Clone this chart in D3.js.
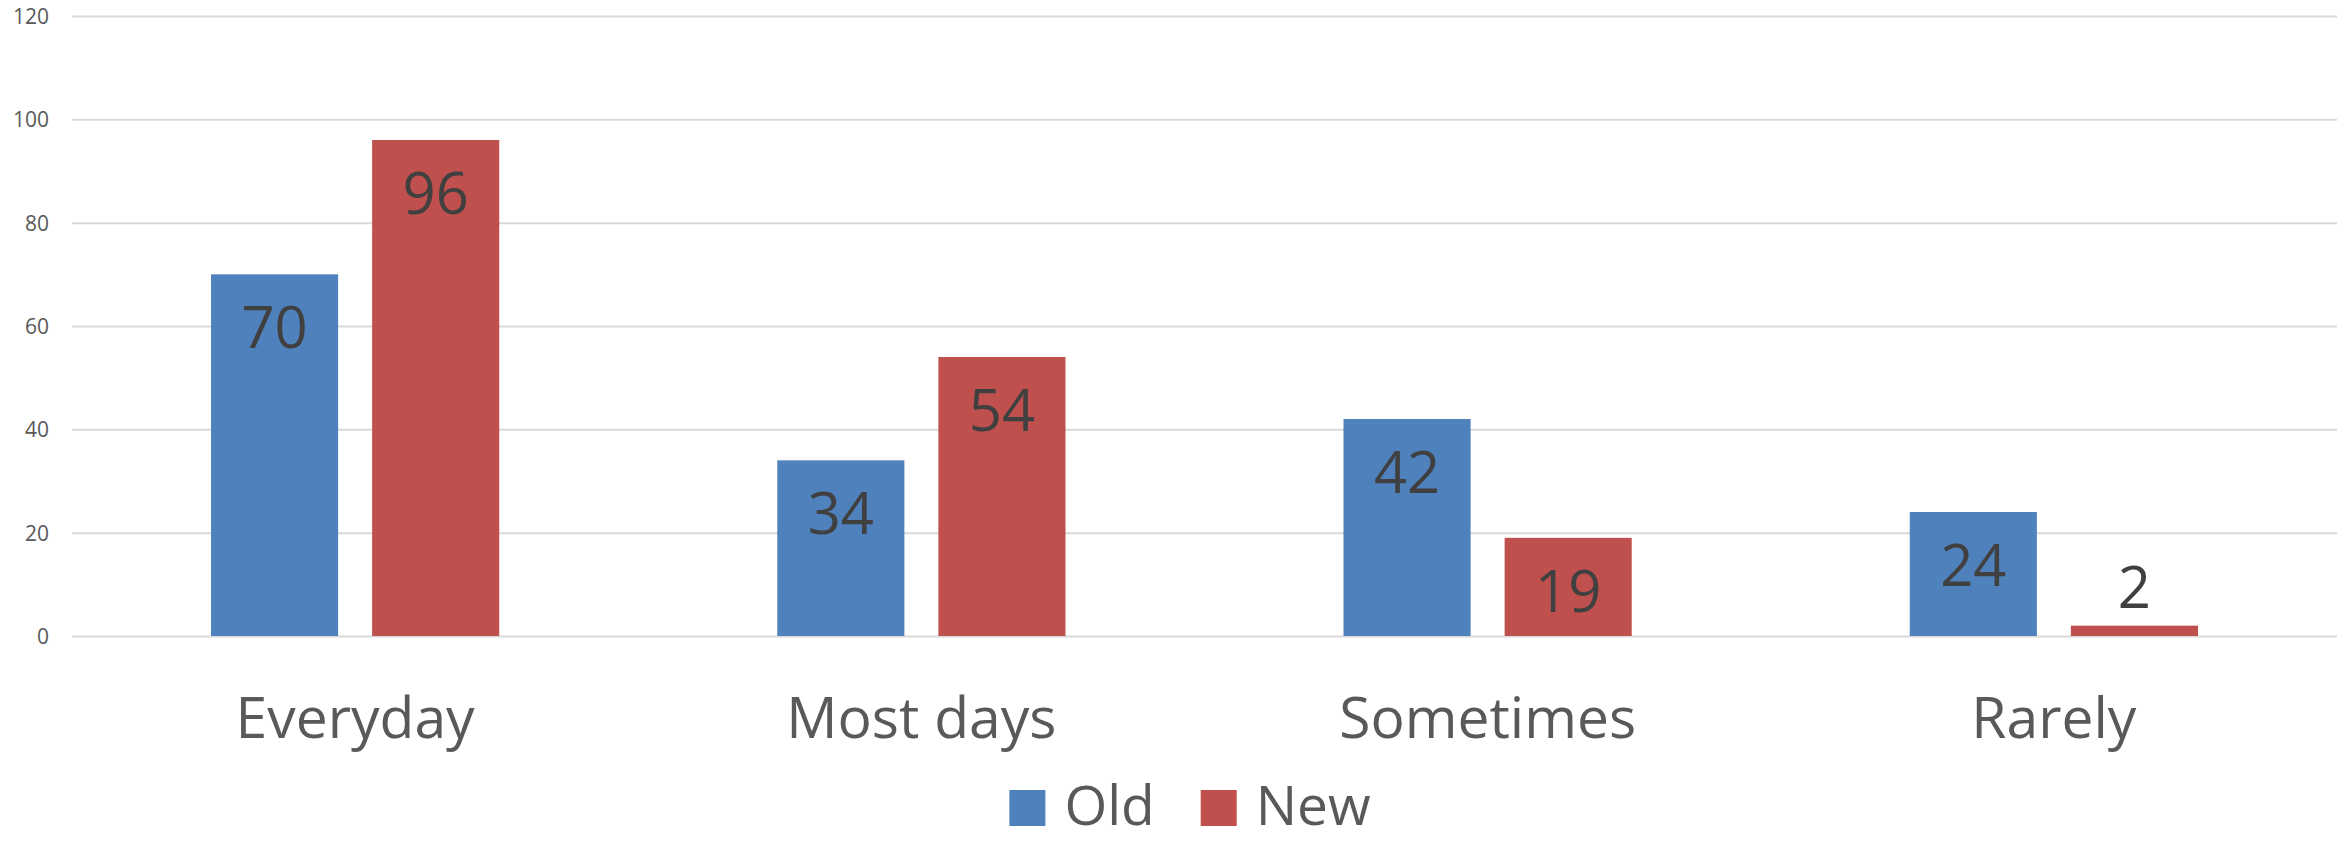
<!DOCTYPE html>
<html>
<head>
<meta charset="utf-8">
<script src="https://cdn.jsdelivr.net/npm/d3@7"></script>
<style>
  html, body { margin: 0; padding: 0; background: #fff; }
  svg { display: block; }
  text { font-family: "Open Sans", "Noto Sans", sans-serif; }
</style>
</head>
<body>
<svg id="chart" width="2343" height="843"></svg>
<script>
const categories = ["Everyday", "Most days", "Sometimes", "Rarely"];
const seriesNames = ["Old", "New"];
const oldValues = [70, 34, 42, 24];
const newValues = [96, 54, 19, 2];
const yTicks = [0, 20, 40, 60, 80, 100, 120];
const colors = { Old: "#4F81BD", New: "#C0504D" };

const seriesValues = { Old: oldValues, New: newValues };
const data = categories.map((c, i) => ({
  category: c,
  values: seriesNames.map(s => ({ series: s, value: seriesValues[s][i] }))
}));

const plotLeft = 72, plotRight = 2337, plotTop = 16, plotBottom = 636;
const svg = d3.select("#chart");

const y = d3.scaleLinear().domain([0, 120]).range([plotBottom, plotTop]);
const x0 = d3.scaleBand().domain(categories).range([plotLeft, plotRight]).padding(0);
const groupW = x0.bandwidth() * 0.509;
const x1 = d3.scaleBand().domain(seriesNames).range([0, groupW]).paddingInner(0.211).paddingOuter(0);

// gridlines + tick labels
const yAxis = d3.axisLeft(y).tickValues(yTicks).tickSize(-(plotRight - plotLeft)).tickPadding(23).tickFormat(d3.format("d"));
const gAxis = svg.append("g").attr("transform", `translate(${plotLeft},0)`).call(yAxis);
gAxis.select(".domain").remove();
gAxis.selectAll(".tick line").attr("stroke", "#D9D9D9").attr("stroke-width", 2);
gAxis.selectAll(".tick text")
  .attr("fill", "#595959")
  .attr("font-size", 21)
  .attr("x", -23)
  .attr("dy", "0.35em");

// bars
const groups = svg.append("g").selectAll("g").data(data).join("g")
  .attr("transform", d => `translate(${x0(d.category) + (x0.bandwidth() - groupW) / 2},0)`);

groups.selectAll("rect").data(d => d.values).join("rect")
  .attr("x", d => x1(d.series))
  .attr("y", d => y(d.value))
  .attr("width", x1.bandwidth())
  .attr("height", d => y(0) - y(d.value))
  .attr("fill", d => colors[d.series]);

// data labels
groups.selectAll("text.lbl").data(d => d.values).join("text")
  .attr("class", "lbl")
  .attr("x", d => x1(d.series) + x1.bandwidth() / 2)
  .attr("y", d => (y(0) - y(d.value) > 90) ? y(d.value) + 74 : y(d.value) - 18)
  .attr("text-anchor", "middle")
  .attr("fill", "#404040")
  .attr("font-size", 58)
  .text(d => d.value);

// category labels
svg.append("g").selectAll("text").data(categories).join("text")
  .attr("x", d => x0(d) + x0.bandwidth() / 2)
  .attr("y", 738)
  .attr("text-anchor", "middle")
  .attr("fill", "#595959")
  .attr("font-size", 57)
  .text(d => d);

// legend
const legend = svg.append("g");
const items = legend.selectAll("g").data(seriesNames).join("g");
items.append("rect").attr("width", 36).attr("height", 36).attr("y", 790).attr("fill", d => colors[d]);
items.append("text").attr("x", 55).attr("y", 825).attr("fill", "#595959").attr("font-size", 55).text(d => d);
const widths = [];
items.each(function() {
  const tw = d3.select(this).select("text").node().getComputedTextLength();
  widths.push(55 + tw);
});
const gap = 46;
const total = widths.reduce((a, b) => a + b, 0) + gap * (widths.length - 1);
let start = 1190 - total / 2;
items.attr("transform", (d, i) => {
  const t = `translate(${start},0)`;
  start += widths[i] + gap;
  return t;
});
</script>
</body>
</html>
